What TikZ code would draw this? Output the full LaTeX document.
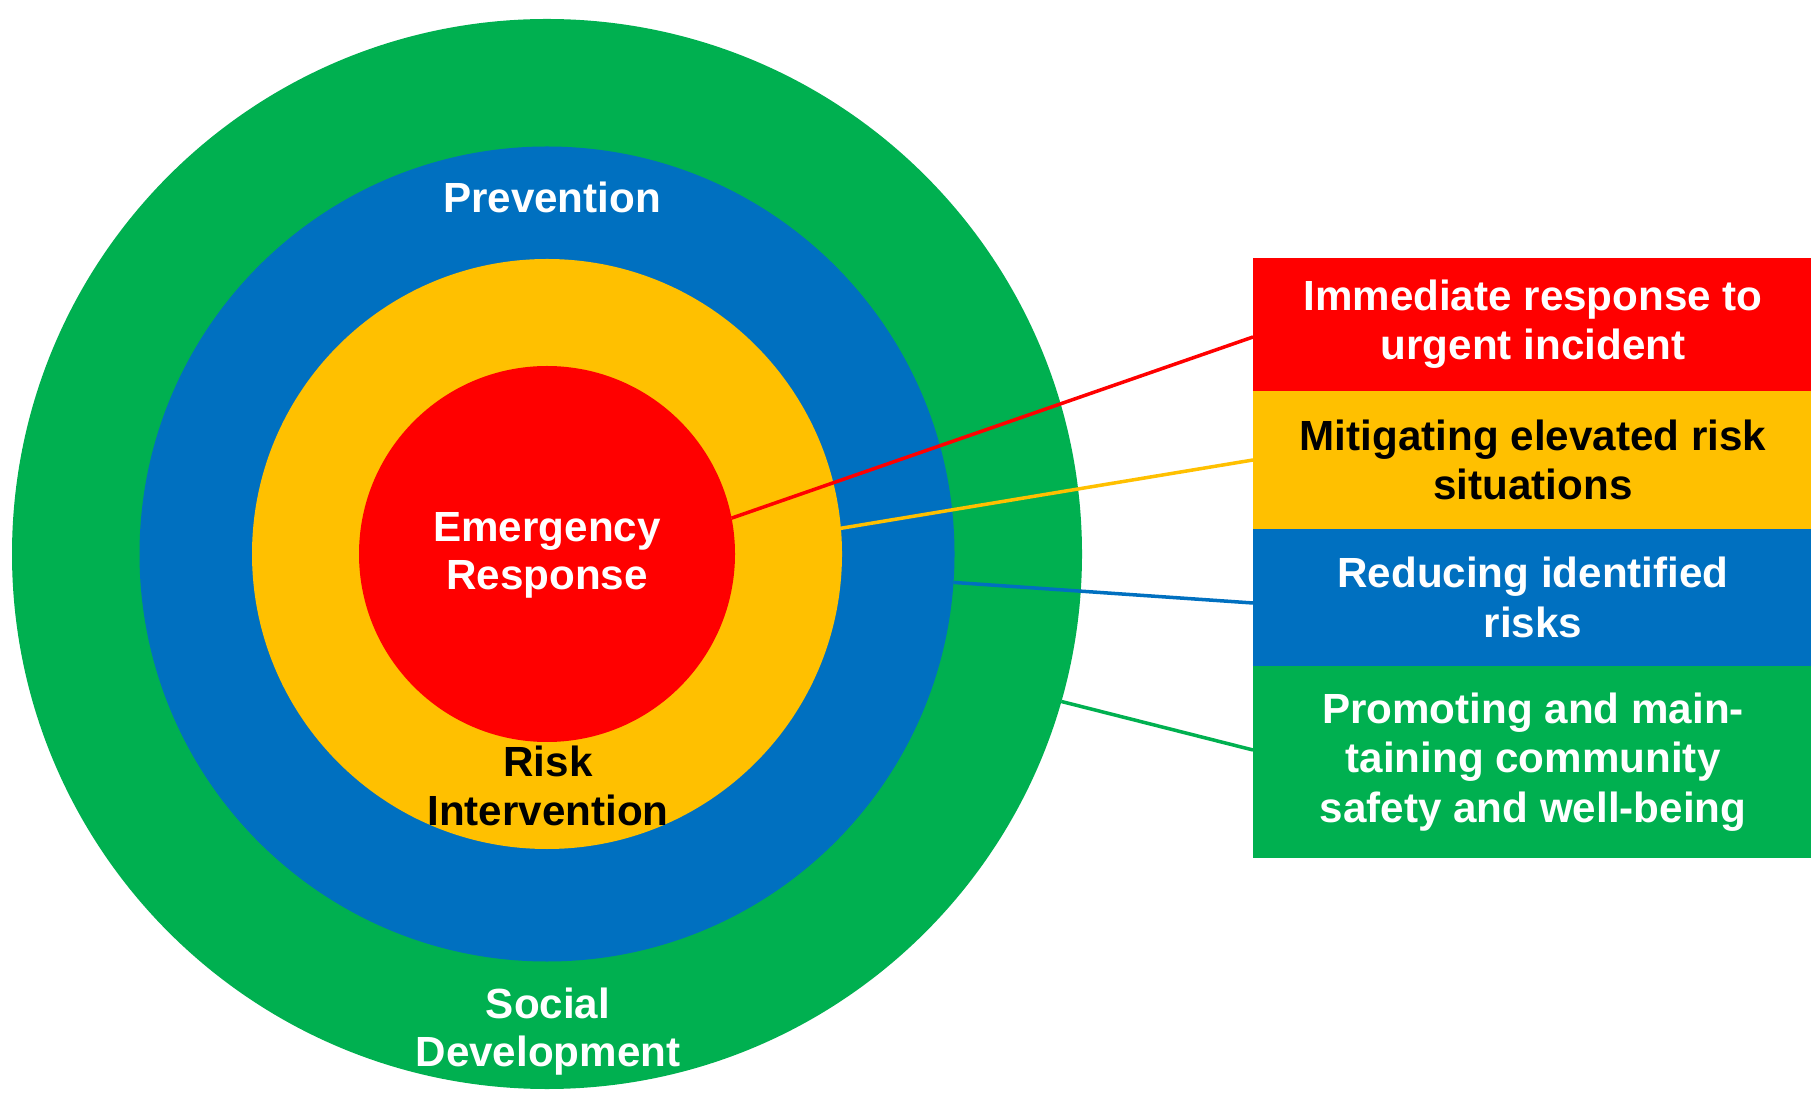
\documentclass[tikz,border=0pt]{standalone}
\usepackage{fontspec}
\setmainfont{Liberation Sans}
\usetikzlibrary{positioning}

\definecolor{ered}{HTML}{FF0000}
\definecolor{eyellow}{HTML}{FFC000}
\definecolor{eblue}{HTML}{0070C0}
\definecolor{egreen}{HTML}{00B050}

\begin{document}
\begin{tikzpicture}[
  ring/.style={circle,inner sep=0pt,outer sep=0pt},
  lbl/.style={align=center,font=\fontsize{12}{13.7}\selectfont\bfseries},
  band/.style={rectangle,inner sep=0pt,outer sep=0pt,minimum width=5.6cm,
    align=center,font=\fontsize{12}{14}\selectfont\bfseries},
  link/.style={line width=1pt}]

  \useasboundingbox (0,0) rectangle (18.11,10.97);
  \clip (0,0) rectangle (18.11,10.97);
  \fill[white] (0,0) rectangle (18.11,10.97);

  % the four rings
  \node[ring,fill=egreen,minimum size=10.7cm] (SD) at (5.47,5.43) {};
  \node[ring,fill=eblue,minimum size=8.15cm] (P) at (5.47,5.43) {};
  \node[ring,fill=eyellow,minimum size=5.9cm] (RI) at (5.47,5.43) {};
  \node[ring,fill=ered,minimum size=3.76cm] (ER) at (5.47,5.43) {};

  \node[lbl,text=white] (Pt) at (5.52,9.0) {Prevention};
  \node[lbl,text=white] (ERt) at (5.47,5.42) {Emergency\\Response};
  \node[lbl,text=black] (RIt) at (5.48,3.11) {Risk\\Intervention};
  \node[lbl,text=white] (SDt) at (5.48,0.65) {Social\\Development};

  % the four bands
  \node[band,fill=ered,text=white,minimum height=1.33cm,anchor=north west] (ERb)
    at (12.53,8.39) {Immediate response to\\urgent incident};
  \node[band,fill=eyellow,text=black,minimum height=1.38cm,below=0pt of ERb] (RIb)
    {Mitigating elevated risk\\situations};
  \node[band,fill=eblue,text=white,minimum height=1.37cm,below=0pt of RIb] (Pb)
    {Reducing identified\\risks};
  \node[band,fill=egreen,text=white,minimum height=1.92cm,below=0pt of Pb] (SDb)
    {Promoting and main-\\taining community\\safety and well-being};

  \draw[link,ered] (ER.11.3) -- ([yshift=-0.125cm]ERb.west);
  \draw[link,eyellow] (RI.5.7) -- (RIb.west);
  \draw[link,eblue] (P.-4.1) -- ([yshift=-0.055cm]Pb.west);
  \draw[link,egreen] (SD.-16.1) -- ([yshift=0.12cm]SDb.west);

\end{tikzpicture}
\end{document}
